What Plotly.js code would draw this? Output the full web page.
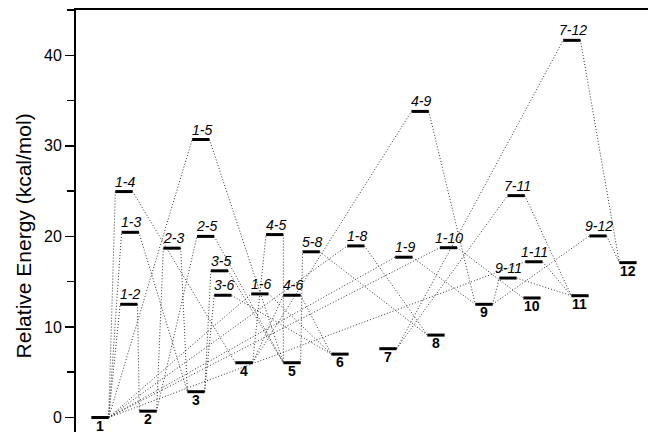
<!DOCTYPE html>
<html>
<head>
<meta charset="utf-8">
<script src="https://cdn.plot.ly/plotly-3.0.1.min.js"></script>
<style>html,body{margin:0;padding:0;background:#fff;overflow:hidden}#chart{width:648px;height:432px}</style>
</head>
<body>
<div id="chart"></div>
<script>
// Minima (intermediates): label and relative energy (kcal/mol); placed at x = 1..12
const minLabels = ['1','2','3','4','5','6','7','8','9','10','11','12'];
const minE = [0, 0.7, 2.85, 6.05, 6.05, 7.0, 7.6, 9.1, 12.5, 13.2, 13.45, 17.1];

// Transition states: label "a-b" connects minimum a and minimum b
const tsLabels = ['1-2','1-3','1-4','2-3','1-5','2-5','3-5','3-6','1-6','4-5','4-6','5-8','1-8','1-9','4-9','1-10','9-11','7-11','1-11','7-12','9-12'];
const tsX = [1.6, 1.63, 1.5, 2.5, 3.1, 3.2, 3.49, 3.56, 4.33, 4.64, 5.0, 5.4, 6.33, 7.33, 7.67, 8.26, 9.5, 9.67, 10.04, 10.83, 11.375];
const tsE = [12.5, 20.45, 24.95, 18.7, 30.7, 20.0, 16.2, 13.5, 13.65, 20.2, 13.5, 18.3, 18.95, 17.7, 33.8, 18.75, 15.4, 24.5, 17.2, 41.65, 20.05];

const HW = 0.18; // half width of a level bar (x units)
const minX = minLabels.map((_, i) => i + 1);

// level bars
const barX = [], barY = [];
minX.forEach((x, i) => { barX.push(x - HW, x + HW, null); barY.push(minE[i], minE[i], null); });
tsX.forEach((x, i) => { barX.push(x - HW, x + HW, null); barY.push(tsE[i], tsE[i], null); });

// dotted connectors
const conX = [], conY = [];
tsLabels.forEach((lab, i) => {
  const [a, b] = lab.split('-').map(Number);
  conX.push(minX[a - 1] + HW, tsX[i] - HW, null);
  conY.push(minE[a - 1], tsE[i], null);
  conX.push(tsX[i] + HW, minX[b - 1] - HW, null);
  conY.push(tsE[i], minE[b - 1], null);
});

const FONT = 'Arial, "Liberation Sans", sans-serif';

const traces = [
  { x: conX, y: conY, mode: 'lines', line: { color: '#333', width: 1, dash: '1px,2px' }, connectgaps: false, hoverinfo: 'skip' },
  { x: barX, y: barY, mode: 'lines', line: { color: '#000', width: 3 }, connectgaps: false, hoverinfo: 'skip' }
];

const annotations = [];
minLabels.forEach((lab, i) => annotations.push({
  x: minX[i], y: minE[i], xref: 'x', yref: 'y', text: '<b>' + lab + '</b>', showarrow: false,
  yshift: -8, font: { family: FONT, size: 14, color: '#000' }
}));
tsLabels.forEach((lab, i) => annotations.push({
  x: tsX[i], y: tsE[i], xref: 'x', yref: 'y', text: '<i>' + lab + '</i>', showarrow: false,
  yshift: 10, xshift: 1, font: { family: FONT, size: 14, color: '#000' }
}));
annotations.push({
  x: 0, xref: 'paper', xshift: -53, y: 20, yref: 'y', text: 'Relative Energy (kcal/mol)',
  textangle: -90, showarrow: false, xanchor: 'center', yanchor: 'middle',
  font: { family: FONT, size: 21, color: '#000' }
});

const layout = {
  width: 648, height: 432,
  margin: { l: 76, r: 0, t: 10, b: 0, pad: 0 },
  paper_bgcolor: '#fff', plot_bgcolor: '#fff',
  showlegend: false, hovermode: false,
  font: { family: FONT, color: '#000' },
  xaxis: {
    range: [0.5, 12.417], side: 'top', showline: true, linewidth: 2, linecolor: '#000',
    showticklabels: false, ticks: '', showgrid: false, zeroline: false
  },
  yaxis: {
    range: [-1.6, 45], showline: true, linewidth: 2, linecolor: '#000',
    tick0: 0, dtick: 10, ticks: 'outside', ticklen: 9, tickwidth: 1.5, tickcolor: '#000',
    minor: { dtick: 5, ticks: 'outside', ticklen: 7, tickwidth: 1.5, tickcolor: '#000', showgrid: false },
    tickfont: { family: FONT, size: 16, color: '#000' },
    showgrid: false, zeroline: false
  },
  annotations: annotations
};

Plotly.newPlot('chart', traces, layout, { displayModeBar: false, staticPlot: true });
</script>
</body>
</html>
